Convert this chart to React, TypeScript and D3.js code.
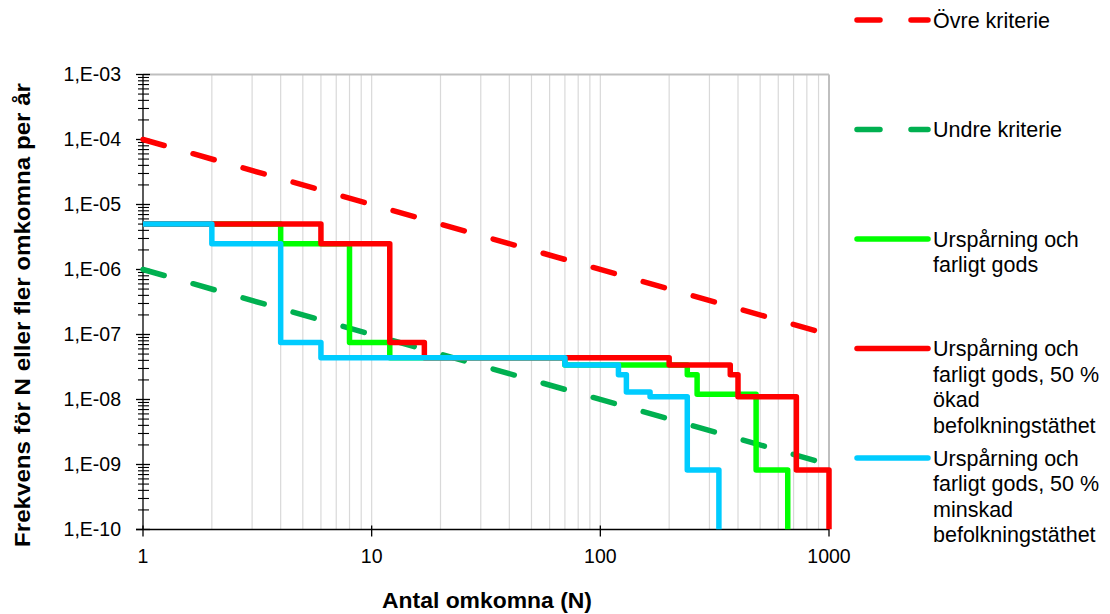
import * as d3 from 'd3'

// F/N-kurva: frekvens för N eller fler omkomna per år
const xTickValues = [1, 10, 100, 1000]
const yTickValues = [1e-3, 1e-4, 1e-5, 1e-6, 1e-7, 1e-8, 1e-9, 1e-10]
const yTickLabels = ['1,E-03', '1,E-04', '1,E-05', '1,E-06', '1,E-07', '1,E-08', '1,E-09', '1,E-10']

// kriterielinjer
const ovreN = [1, 1000]
const ovreF = [1e-4, 1e-7]
const undreN = [1, 1000]
const undreF = [1e-6, 1e-9]

// trappstegskurvor (N där nivån börjar, frekvens)
const basN = [1, 4, 8, 12, 70, 240, 265, 480, 660]
const basF = [5e-6, 2.5e-6, 7.5e-8, 4.4e-8, 3.4e-8, 2.4e-8, 1.2e-8, 8.2e-10, 1e-10]
const okadN = [1, 6, 12, 17, 200, 370, 400, 720, 1000]
const okadF = [5e-6, 2.5e-6, 7.5e-8, 4.4e-8, 3.4e-8, 2.4e-8, 1.1e-8, 8.2e-10, 1e-10]
const minskadN = [1, 2, 4, 6, 70, 120, 130, 165, 240, 330]
const minskadF = [5e-6, 2.5e-6, 7.5e-8, 4.4e-8, 3.4e-8, 2.4e-8, 1.3e-8, 1.1e-8, 8.2e-10, 1e-10]

const legendLabels = [
  ['Övre kriterie'],
  ['Undre kriterie'],
  ['Urspårning och', 'farligt gods'],
  ['Urspårning och', 'farligt gods, 50 %', 'ökad', 'befolkningstäthet'],
  ['Urspårning och', 'farligt gods, 50 %', 'minskad', 'befolkningstäthet'],
]
const legendColors = ['#FF0000', '#00B050', '#00FF00', '#FF0000', '#00CCFF']
const legendDashed = [true, true, false, false, false]

const font = '"Liberation Sans", Arial, sans-serif'

export default function App() {
  const width = 1110,
    height = 614
  const margin = { top: 74.5, left: 143, right: 829, bottom: 529.5 }

  const x = d3.scaleLog().domain([1, 1000]).range([margin.left, margin.right])
  const y = d3.scaleLog().domain([1e-10, 1e-3]).range([margin.bottom, margin.top])

  const zip = (ns: number[], fs: number[]) => ns.map((n, i) => [n, fs[i]] as [number, number])

  const straight = d3
    .line<[number, number]>()
    .x((d) => x(d[0]))
    .y((d) => y(d[1]))
  const step = d3
    .line<[number, number]>()
    .x((d) => x(d[0]))
    .y((d) => y(d[1]))
    .curve(d3.curveStepAfter)

  // gridlinjer på alla delsteg
  const grid: number[] = []
  for (let e = 0; e < 3; e++) {
    for (let k = 2; k <= 10; k++) grid.push(k * Math.pow(10, e))
  }
  const minorY: number[] = []
  for (let e = -10; e < -3; e++) {
    for (let k = 2; k <= 9; k++) minorY.push(k * Math.pow(10, e))
  }

  const steps = [
    { data: zip(basN, basF), color: '#00FF00' },
    { data: zip(okadN, okadF), color: '#FF0000' },
    { data: zip(minskadN, minskadF), color: '#00CCFF' },
  ]

  return (
    <svg
      width={width}
      height={height}
      style={{ position: 'absolute', left: 0, top: 0, background: '#fff' }}
      fontFamily={font}
    >
      <defs>
        <clipPath id="plot">
          <rect x={margin.left - 10} y={margin.top - 10} width={margin.right - margin.left + 20} height={margin.bottom - margin.top + 10} />
        </clipPath>
      </defs>

      {grid.map((g) => (
        <line
          key={'g' + g}
          x1={x(g)}
          x2={x(g)}
          y1={margin.top}
          y2={margin.bottom}
          stroke={g === 1000 ? '#BFBFBF' : '#D9D9D9'}
          strokeWidth={g === 1000 ? 2 : 1.2}
        />
      ))}
      <line x1={margin.left} x2={margin.right} y1={margin.top} y2={margin.top} stroke="#BFBFBF" strokeWidth={2} />

      {/* y-axel */}
      <line x1={margin.left} x2={margin.left} y1={margin.top} y2={margin.bottom} stroke="#000" strokeWidth={1.3} />
      {minorY.map((v) => (
        <line key={'m' + v} x1={margin.left - 5} x2={margin.left + 6} y1={y(v)} y2={y(v)} stroke="#000" strokeWidth={1.1} />
      ))}
      {yTickValues.map((v, i) => (
        <g key={'y' + v}>
          <line x1={margin.left - 7} x2={margin.left + 7} y1={y(v)} y2={y(v)} stroke="#000" strokeWidth={1.3} />
          <text x={121} y={y(v)} dy="0.35em" textAnchor="end" fontSize={19.5} fill="#000">
            {yTickLabels[i]}
          </text>
        </g>
      ))}

      {/* x-axel */}
      <line x1={margin.left - 7} x2={margin.right} y1={margin.bottom} y2={margin.bottom} stroke="#000" strokeWidth={1.3} />
      {xTickValues.map((v) => (
        <g key={'x' + v}>
          <line x1={x(v)} x2={x(v)} y1={margin.bottom - 4} y2={margin.bottom + 7} stroke="#000" strokeWidth={1.3} />
          <text x={x(v)} y={563} textAnchor="middle" fontSize={19.5} fill="#000">
            {v}
          </text>
        </g>
      ))}

      <g clipPath="url(#plot)" fill="none">
        <path d={straight(zip(ovreN, ovreF)) || ''} stroke="#FF0000" strokeWidth={5.5} strokeDasharray="22 30" strokeLinecap="round" />
        <path d={straight(zip(undreN, undreF)) || ''} stroke="#00B050" strokeWidth={5.5} strokeDasharray="22 30" strokeLinecap="round" />
        {steps.map((s, i) => (
          <path key={i} d={step(s.data) || ''} stroke={s.color} strokeWidth={5.5} strokeLinejoin="round" />
        ))}
      </g>

      {/* axeltitlar */}
      <text x={487} y={608} textAnchor="middle" fontSize={22} fontWeight="bold" fill="#000" textLength={210} lengthAdjust="spacingAndGlyphs">
        Antal omkomna (N)
      </text>
      <text
        transform={`translate(30, 315) rotate(-90)`}
        textAnchor="middle"
        fontSize={22}
        fontWeight="bold"
        fill="#000"
        textLength={464}
        lengthAdjust="spacingAndGlyphs"
      >
        Frekvens för N eller fler omkomna per år
      </text>

      {/* förklaring */}
      {legendLabels.map((lines, i) => {
        const cy = 20 + i * 109.5
        return (
          <g key={'l' + i}>
            <line
              x1={857}
              x2={928}
              y1={cy}
              y2={cy}
              stroke={legendColors[i]}
              strokeWidth={5.5}
              strokeLinecap="round"
              strokeDasharray={legendDashed[i] ? '23 31' : undefined}
            />
            {lines.map((t, j) => (
              <text key={j} x={933} y={cy + j * 25.5} dy="0.35em" fontSize={21.5} fill="#000">
                {t}
              </text>
            ))}
          </g>
        )
      })}
    </svg>
  )
}
